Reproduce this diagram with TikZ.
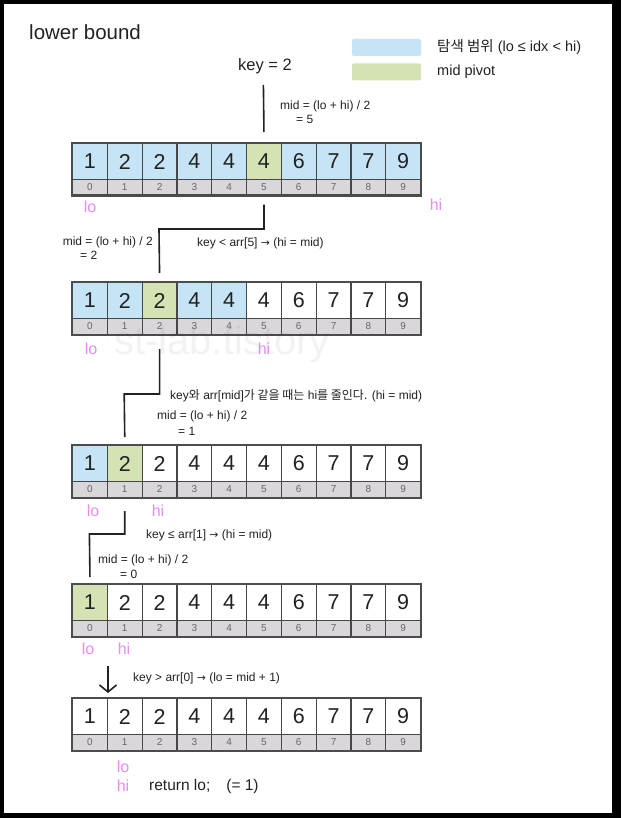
\documentclass[tikz,border=0pt]{standalone}
\usepackage{fontspec}
\setmainfont{Liberation Sans}
\newfontfamily\kr{Noto Sans CJK KR}
\newfontfamily\symf{DejaVu Sans}
\usetikzlibrary{arrows.meta}
\definecolor{rangeblue}{RGB}{197,228,245}
\definecolor{pivotgreen}{RGB}{213,227,180}
\definecolor{idxgray}{RGB}{218,215,218}
\definecolor{ptrpink}{RGB}{232,140,242}
\definecolor{ink}{RGB}{34,34,34}
\newcommand\myfs[1]{\fontsize{#1}{#1}\selectfont}
\newcommand\rarr{{\symf\scalebox{0.9}{→}}}
\tikzset{
  valcell/.style={draw=black!72, line width=1.1pt, minimum width=34.8pt, minimum height=36pt,
    inner sep=0pt, anchor=north west, font=\myfs{21.5}, text=ink},
  idxcell/.style={draw=black!72, line width=1.1pt, fill=idxgray, minimum width=34.8pt,
    minimum height=15.5pt, inner sep=0pt, anchor=north west, font=\myfs{10}, text=black!60},
  frame/.style={draw=black!70, line width=2pt},
  note/.style={anchor=west, inner sep=0pt, font=\myfs{12}, text=ink},
  ptr/.style={inner sep=0pt, font=\myfs{16}, text=ptrpink},
  conn/.style={draw=ink, line width=1.6pt},
  legbox/.style={minimum width=69pt, minimum height=17pt, rounded corners=2pt, inner sep=0pt},
}
% #1 name, #2 top y, #3 lo, #4 hi, #5 mid
\newcommand\arrayrow[5]{%
  \foreach \cellv [count=\i from 0] in {1,2,2,4,4,4,6,7,7,9}{%
    \def\cf{white}%
    \ifnum\i<#4\relax\ifnum\i>\numexpr#3-1\relax\def\cf{rangeblue}\fi\fi
    \ifnum\i=#5\relax\def\cf{pivotgreen}\fi
    \node[valcell,fill=\cf] (#1v\i) at ({72+34.8*\i},#2) {\cellv};
    \node[idxcell] (#1i\i) at ({72+34.8*\i},#2+36) {\i};
  }%
  \draw[frame] (#1v0.north west) rectangle (#1i9.south east);
}
\begin{document}
\begin{tikzpicture}[x=1pt,y=-1pt]
\useasboundingbox (0,0) rectangle (621,818);
\fill[black] (0,0) rectangle (621,818);
\fill[white] (4,4) rectangle (612,813);

% title and legend
\node[anchor=west, inner sep=0pt, font=\myfs{20.5}, text=ink] (title) at (29,32) {lower bound};
\node[legbox, fill=rangeblue] (leg1) at (386.5,47.5) {};
\node[legbox, fill=pivotgreen] (leg2) at (386.5,72) {};
\node[note, font=\myfs{14.5}] (legt1) at (437,47.5) {{\kr 탐색 범위} (lo ≤ idx < hi)};
\node[note, font=\myfs{14.5}] (legt2) at (437,72) {mid pivot};

\node[inner sep=0pt, font=\myfs{16.5}, text=ink] (key) at (265,66) {key = 2};

% arrays
\arrayrow{ra}{143}{0}{10}{5}
\arrayrow{rb}{282}{0}{5}{2}
\arrayrow{rc}{445}{0}{2}{1}
\arrayrow{rd}{584}{0}{1}{0}
\arrayrow{re}{698}{1}{1}{-1}

% watermark
\node[inner sep=0pt, font=\myfs{40}, text=black, opacity=0.05] (wm) at (222,344) {st-lab.tistory};

% pointers
\node[ptr] (loa) at (90,207) {lo};
\node[ptr] (hia) at (436,205) {hi};
\node[ptr] (lob) at (91,349) {lo};
\node[ptr] (hib) at (264,349) {hi};
\node[ptr] (loc) at (93,511) {lo};
\node[ptr] (hic) at (158,511) {hi};
\node[ptr] (lod) at (88,649) {lo};
\node[ptr] (hid) at (124,649) {hi};
\node[ptr] (loe) at (123,767) {lo};
\node[ptr] (hie) at (123,786) {hi};

% connectors
\coordinate (k0) at (263.4,85);
\draw[conn] (k0) -- ([yshift=11pt]rav5.north);
\coordinate (b1) at (159,229);
\draw[conn] ([yshift=-9pt]rai5.south) |- (b1) -- ([yshift=9pt]rbv2.north);
\coordinate (b2) at (124.2,394);
\draw[conn] ([yshift=-14.5pt]rbi2.south) |- (b2) -- ([yshift=8pt]rcv1.north);
\coordinate (b3) at (89.4,534);
\draw[conn] ([yshift=-13.5pt]rci1.south) |- (b3) -- ([yshift=7pt]rdv0.north);
\coordinate (a0) at (108,666);
\draw[conn, -{Straight Barb[length=7pt,width=17pt]}] (a0) -- (108,693);

% notes
\node[note] (m1) at (280,106) {mid = (lo + hi) / 2};
\node[note] (m1b) at (296,119) {= 5};
\node[note, anchor=east] (m2) at (153,242) {mid = (lo + hi) / 2};
\node[note] (m2b) at (80,255) {= 2};
\node[note] (t2) at (197,243) {key < arr[5] \rarr\ (hi = mid)};
\node[note] (t3) at (170,396) {key{\kr 와} arr[mid]{\kr 가 같을 때는} hi{\kr 를 줄인다.} (hi = mid)};
\node[note] (m3) at (157,416) {mid = (lo + hi) / 2};
\node[note] (m3b) at (178,431) {= 1};
\node[note] (t4) at (146,535) {key ≤ arr[1] \rarr\ (hi = mid)};
\node[note] (m4) at (98,560) {mid = (lo + hi) / 2};
\node[note] (m4b) at (120,574) {= 0};
\node[note] (t5) at (133,678) {key > arr[0] \rarr\ (lo = mid + 1)};
\node[note, font=\myfs{15.5}] (ret) at (149,786) {return lo;\hspace{16pt}(= 1)};
\end{tikzpicture}
\end{document}
